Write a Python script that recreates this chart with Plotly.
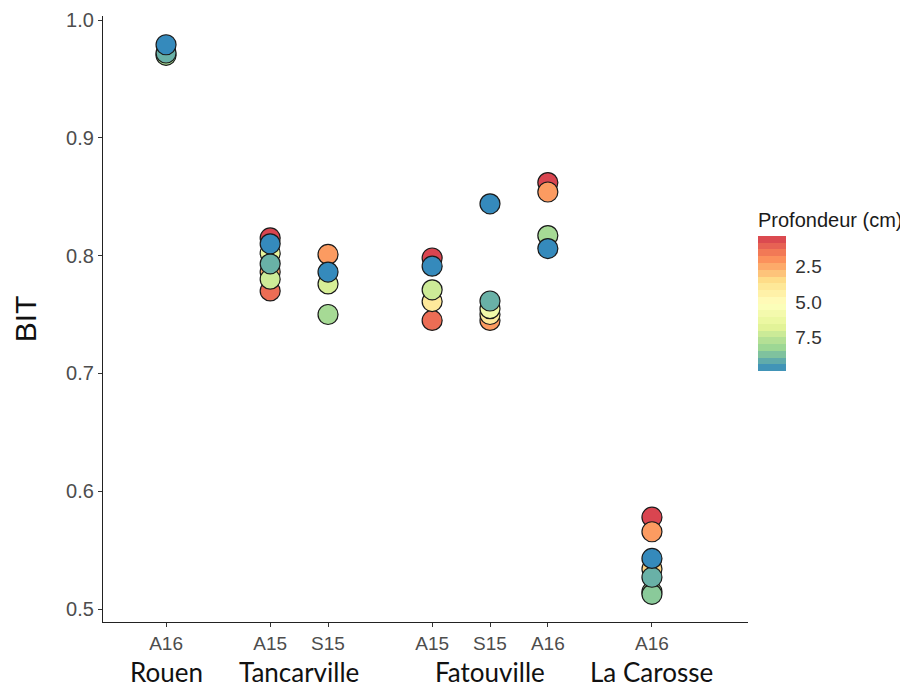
import numpy as np
import plotly.graph_objects as go

# ---------------- data ----------------
tick_positions = [1.0, 2.8, 3.8, 5.6, 6.6, 7.6, 9.4]
tick_labels = ["A16", "A15", "S15", "A15", "S15", "A16", "A16"]
site_names = ["Rouen", "Tancarville", "Fatouville", "La Carosse"]
site_centers = [1.0, 3.3, 6.6, 9.4]

rouen_a16_bit = [0.970, 0.972, 0.979]
rouen_a16_depth = [8.0, 9.0, 9.8]

tanc_a15_bit = [0.815, 0.810, 0.802, 0.786, 0.793, 0.780, 0.770]
tanc_a15_depth = [0.5, 9.8, 6.5, 2.5, 9.0, 7.2, 1.3]

tanc_s15_bit = [0.801, 0.786, 0.776, 0.750]
tanc_s15_depth = [2.2, 9.8, 7.0, 8.0]

fat_a15_bit = [0.798, 0.791, 0.771, 0.761, 0.745]
fat_a15_depth = [0.5, 9.8, 7.2, 4.0, 1.3]

fat_s15_bit = [0.844, 0.7615, 0.755, 0.750, 0.745]
fat_s15_depth = [9.8, 9.0, 6.0, 4.0, 2.2]

fat_a16_bit = [0.862, 0.854, 0.817, 0.806]
fat_a16_depth = [0.5, 2.2, 8.0, 9.8]

lac_a16_bit = [0.578, 0.5656, 0.543, 0.534, 0.527, 0.5147, 0.5125]
lac_a16_depth = [0.5, 2.2, 9.8, 3.3, 9.0, 8.0, 8.5]

depth_min, depth_max = 0.35, 9.85
colorbar_ticks = [2.5, 5.0, 7.5]
colorbar_ticktext = ["2.5", "5.0", "7.5"]
# Spectral palette, from deep (blue) to shallow (red)
spectral = ["#3288BD", "#99D594", "#E6F598", "#FFFFBF", "#FEE08B", "#FC8D59", "#D53E4F"]

# ---------------- assemble ----------------
groups = [
    (tick_positions[0], rouen_a16_bit, rouen_a16_depth),
    (tick_positions[1], tanc_a15_bit, tanc_a15_depth),
    (tick_positions[2], tanc_s15_bit, tanc_s15_depth),
    (tick_positions[3], fat_a15_bit, fat_a15_depth),
    (tick_positions[4], fat_s15_bit, fat_s15_depth),
    (tick_positions[5], fat_a16_bit, fat_a16_depth),
    (tick_positions[6], lac_a16_bit, lac_a16_depth),
]
xs, ys, ds = [], [], []
for xp, b, d in groups:
    xs += [xp] * len(b)
    ys += b
    ds += d
xs, ys, ds = np.array(xs), np.array(ys), np.array(ds)
order = np.argsort(ds, kind="stable")
xs, ys, ds = xs[order], ys[order], ds[order]
neg_depth = -ds  # negative so the colour bar reads 0 (red) at top

def hex2rgb(h):
    h = h.lstrip("#")
    return [int(h[i:i + 2], 16) for i in (0, 2, 4)]

def interp(t):
    n = len(spectral) - 1
    p = t * n
    i = min(int(np.floor(p)), n - 1)
    f = p - i
    a, b = hex2rgb(spectral[i]), hex2rgb(spectral[i + 1])
    c = [round(a[k] + (b[k] - a[k]) * f) for k in range(3)]
    return "rgb(%d,%d,%d)" % tuple(c)

smooth_scale = [[i / (len(spectral) - 1), c] for i, c in enumerate(spectral)]

nbin = 20
step_scale = []
for i in range(nbin):
    c = interp((i + 0.5) / nbin)
    step_scale.append([i / nbin, c])
    step_scale.append([(i + 1) / nbin, c])

fig = go.Figure()
fig.add_trace(go.Scatter(
    x=xs, y=ys, mode="markers",
    marker=dict(size=20, color=neg_depth, cmin=-depth_max, cmax=-depth_min,
                colorscale=smooth_scale, showscale=False,
                line=dict(color="#1a1a1a", width=1.2)),
    showlegend=False, hoverinfo="skip"))

# colorbar-only trace
fig.add_trace(go.Scatter(
    x=[None, None], y=[None, None], mode="markers",
    marker=dict(size=0, color=[-depth_max, -depth_min], cmin=-depth_max, cmax=-depth_min,
                colorscale=step_scale, showscale=True,
                colorbar=dict(
                    title=dict(text="Profondeur (cm)", side="top",
                               font=dict(family="Liberation Sans", size=20, color="#1a1a1a")),
                    x=1.0155, xanchor="left", xpad=0,
                    y=0.4142, yanchor="bottom", ypad=0,
                    len=162, lenmode="pixels", thickness=28,
                    outlinewidth=0,
                    tickvals=[-t for t in colorbar_ticks], ticktext=colorbar_ticktext,
                    ticks="outside", ticklen=6, tickcolor="rgba(0,0,0,0)", tickwidth=1,
                    tickfont=dict(family="Liberation Sans", size=19, color="#333333"),
                )),
    showlegend=False, hoverinfo="skip"))

annotations = []
for name, cx in zip(site_names, site_centers):
    annotations.append(dict(x=cx, y=-0.083, xref="x", yref="paper", text=name,
                            showarrow=False, xanchor="center", yanchor="middle",
                            font=dict(family="Lato", size=26, color="#111111")))

# the page body adds an 8 px offset, so the figure is 8 px smaller and shifted
fig.update_layout(
    width=900, height=680,
    margin=dict(l=95, r=160, t=8, b=66, autoexpand=False),
    paper_bgcolor="white", plot_bgcolor="white",
    annotations=annotations,
    xaxis=dict(range=[-0.09, 11.06], showgrid=False, zeroline=False,
               showline=True, linecolor="#222222", linewidth=1.3,
               tickmode="array", tickvals=tick_positions, ticktext=tick_labels,
               ticks="outside", ticklen=4, tickcolor="#333333",
               tickfont=dict(family="Liberation Sans", size=19, color="#4d4d4d"),
               automargin=False),
    yaxis=dict(range=[0.489, 1.0034], showgrid=False, zeroline=False,
               showline=True, linecolor="#222222", linewidth=1.3,
               tickmode="array", tickvals=[0.5, 0.6, 0.7, 0.8, 0.9, 1.0],
               ticktext=["0.5", "0.6", "0.7", "0.8", "0.9", "1.0"],
               ticks="outside", ticklen=4, tickcolor="#333333",
               tickfont=dict(family="Liberation Sans", size=20, color="#4d4d4d"),
               automargin=False,
               title=dict(text="BIT", standoff=20,
                          font=dict(family="Liberation Sans", size=30, color="#111111"))),
)

fig.write_html("out.html")
